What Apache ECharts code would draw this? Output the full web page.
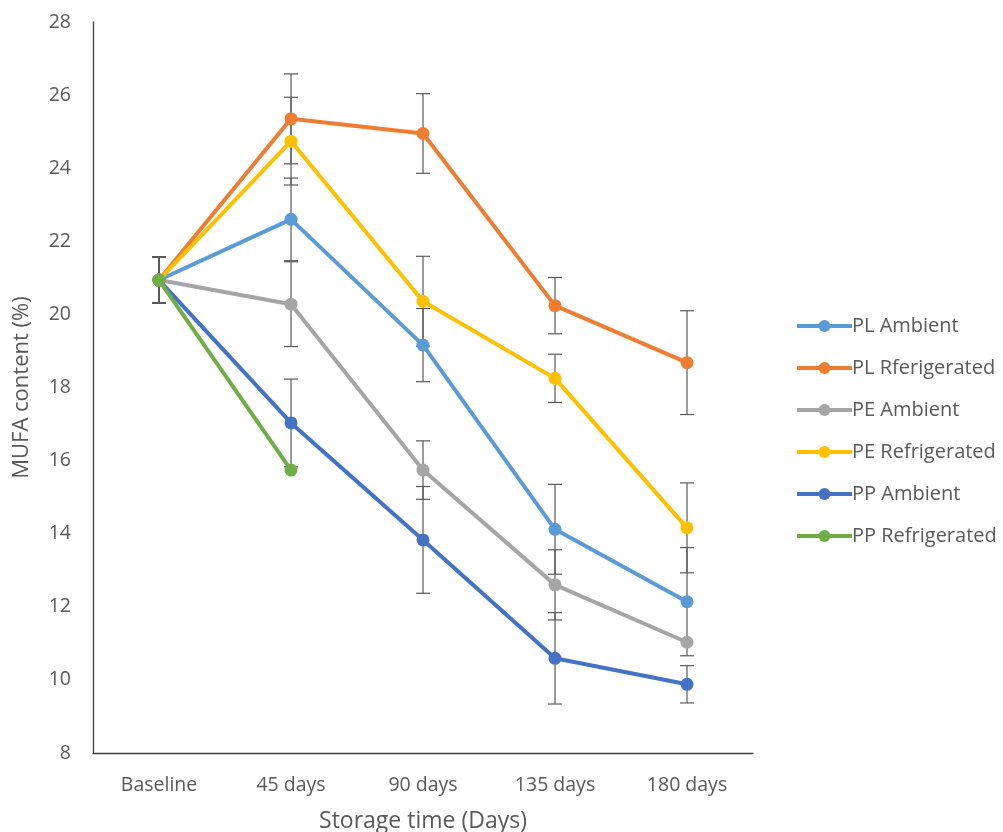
<!DOCTYPE html>
<html>
<head>
<meta charset="utf-8">
<script src="https://cdn.jsdelivr.net/npm/echarts@6/dist/echarts.min.js"></script>
<style>
  html, body { margin: 0; padding: 0; background: #ffffff; }
  #chart { width: 1003px; height: 832px; }
</style>
</head>
<body>
<div id="chart"></div>
<script>
// Storage time points
const categories = ['Baseline', '45 days', '90 days', '135 days', '180 days'];

// Mean MUFA content (%) per packaging / storage condition
const plAmbient       = [20.94, 22.60, 19.16, 14.12, 12.14];
const plRefrigerated  = [20.94, 25.35, 24.95, 20.24, 18.68];
const peAmbient       = [20.94, 20.28, 15.74, 12.60, 11.03];
const peRefrigerated  = [20.94, 24.74, 20.36, 18.25, 14.16];
const ppAmbient       = [20.94, 17.03, 13.83, 10.59, 9.88];
const ppRefrigerated  = [20.94, 15.74, null, null, null];

// Standard deviations (± error bars)
const plAmbientSd      = [0.63, 1.13, 1.00, 1.23, 1.48];
const plRefrigeratedSd = [0.63, 1.23, 1.09, 0.77, 1.42];
const peAmbientSd      = [0.63, 1.16, 0.80, 0.96, 0];
const peRefrigeratedSd = [0.63, 1.20, 1.23, 0.66, 1.23];
const ppAmbientSd      = [0.63, 1.20, 1.46, 1.25, 0.51];
const ppRefrigeratedSd = [0.63, 0, null, null, null];

// Y axis range
const yMin = 8, yMax = 28, yStep = 2;

const seriesDefs = [
  { name: 'PL Ambient',       values: plAmbient,      sd: plAmbientSd,      color: '#5B9BD5' },
  { name: 'PL Rferigerated',  values: plRefrigerated, sd: plRefrigeratedSd, color: '#ED7D31' },
  { name: 'PE Ambient',       values: peAmbient,      sd: peAmbientSd,      color: '#A5A5A5' },
  { name: 'PE Refrigerated',  values: peRefrigerated, sd: peRefrigeratedSd, color: '#FFC000' },
  { name: 'PP Ambient',       values: ppAmbient,      sd: ppAmbientSd,      color: '#4472C4' },
  { name: 'PP Refrigerated',  values: ppRefrigerated, sd: ppRefrigeratedSd, color: '#70AD47' }
];

const FONT = '"Open Sans", sans-serif';
const TEXT = '#595959';

// Error bar rows: [categoryIndex, low, high]
const errorRows = [];
seriesDefs.forEach(function (s) {
  s.values.forEach(function (v, i) {
    const e = s.sd[i];
    if (v != null && e) errorRows.push([i, v - e, v + e]);
  });
});

const errorSeries = {
  type: 'custom',
  name: 'error',
  z: 1,
  silent: true,
  data: errorRows,
  encode: { x: 0, y: [1, 2] },
  renderItem: function (params, api) {
    const x = api.value(0);
    const lo = api.coord([x, api.value(1)]);
    const hi = api.coord([x, api.value(2)]);
    const half = 7;
    const style = { stroke: '#595959', lineWidth: 1.2 };
    return {
      type: 'group',
      children: [
        { type: 'line', shape: { x1: hi[0], y1: hi[1], x2: lo[0], y2: lo[1] }, style: style },
        { type: 'line', shape: { x1: hi[0] - half, y1: hi[1], x2: hi[0] + half, y2: hi[1] }, style: style },
        { type: 'line', shape: { x1: lo[0] - half, y1: lo[1], x2: lo[0] + half, y2: lo[1] }, style: style }
      ]
    };
  }
};

const lineSeries = seriesDefs.map(function (s, k) {
  return {
    type: 'line',
    name: s.name,
    data: s.values,
    z: 2 + k,
    symbol: 'circle',
    symbolSize: 13,
    connectNulls: false,
    lineStyle: { color: s.color, width: 4 },
    itemStyle: { color: s.color },
    emphasis: { disabled: true }
  };
});

const chart = echarts.init(document.getElementById('chart'), null, { renderer: 'canvas' });
chart.setOption({
  backgroundColor: '#ffffff',
  animation: false,
  grid: { left: 93, right: 250, top: 22, bottom: 79, containLabel: false, outerBoundsMode: 'none' },
  legend: {
    orient: 'vertical',
    left: 790,
    top: 311,
    data: seriesDefs.map(function (s) { return s.name; }),
    itemWidth: 55,
    itemHeight: 15,
    itemGap: 22,
    lineStyle: { width: 4 },
    textStyle: { fontFamily: FONT, fontSize: 20, color: TEXT, lineHeight: 20, padding: [0, 0, 0, -5] },
    selectedMode: false
  },
  xAxis: {
    type: 'category',
    data: categories,
    boundaryGap: true,
    name: 'Storage time (Days)',
    nameLocation: 'middle',
    nameGap: 57,
    nameTextStyle: { fontFamily: FONT, fontSize: 23, color: TEXT },
    axisLine: { lineStyle: { color: '#404040', width: 1.3 } },
    axisTick: { show: false },
    axisLabel: { fontFamily: FONT, fontSize: 19.5, color: TEXT, margin: 22 },
    splitLine: { show: false }
  },
  yAxis: {
    type: 'value',
    min: yMin,
    max: yMax,
    interval: yStep,
    name: 'MUFA content (%)',
    nameLocation: 'middle',
    nameGap: 60,
    nameTextStyle: { fontFamily: FONT, fontSize: 22, color: TEXT },
    axisLine: { show: true, lineStyle: { color: '#404040', width: 1.3 } },
    axisTick: { show: false },
    axisLabel: { fontFamily: FONT, fontSize: 19.5, color: TEXT, margin: 22 },
    splitLine: { show: false }
  },
  series: [errorSeries].concat(lineSeries)
});
</script>
</body>
</html>
